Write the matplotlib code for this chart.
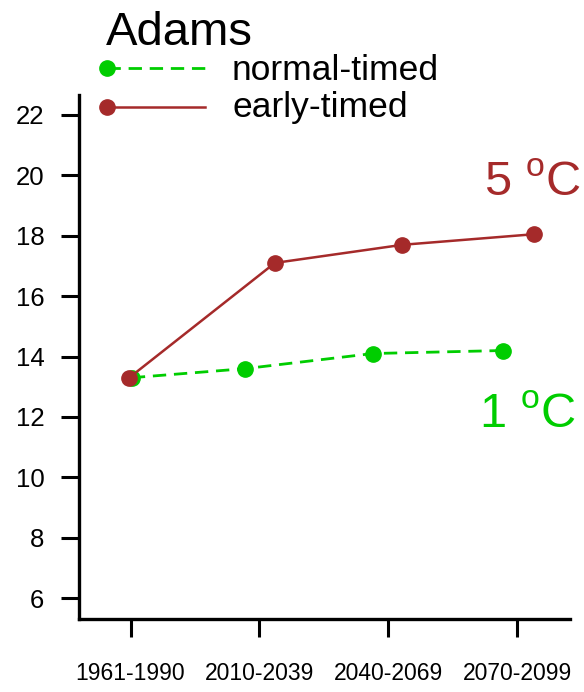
import numpy as np
import matplotlib
matplotlib.use("Agg")
import matplotlib.pyplot as plt
from matplotlib.lines import Line2D

plt.rcParams['font.family'] = ['Liberation Sans', 'DejaVu Sans']
plt.rcParams['mathtext.fontset'] = 'custom'
plt.rcParams['mathtext.rm'] = 'Liberation Sans'

periods = ["1961-1990", "2010-2039", "2040-2069", "2070-2099"]
normal_timed = [13.3, 13.6, 14.1, 14.2]
early_timed = [13.3, 17.1, 17.7, 18.05]
normal_err = [0.22, 0.22, 0.22, 0.22]
early_err = [0.22, 0.22, 0.22, 0.22]

green = "#00CD00"
brown = "#A52A2A"

W, H = 584, 692
fig = plt.figure(figsize=(W / 100, H / 100), dpi=100)
ax = fig.add_axes([79 / W, 1 - 619 / H, (570 - 79) / W, (619 - 95) / H])

pos = np.arange(1, len(periods) + 1)
# small dodge so the two series don't sit on top of each other
dodge_n = np.array([0.01, -0.11, -0.12, -0.11])
dodge_e = np.array([-0.01, 0.12, 0.11, 0.13])

ax.errorbar(pos + dodge_n, normal_timed, yerr=normal_err, color=green, lw=2.0,
            dashes=(4.8, 2.8), marker='o', ms=11, elinewidth=2.2, capsize=0, zorder=3)
ax.errorbar(pos + dodge_e, early_timed, yerr=early_err, color=brown, lw=1.8,
            marker='o', ms=11, elinewidth=2.2, capsize=0, zorder=4)

ax.set_xlim(0.6, 4.41)
ax.set_ylim(5.31, 22.66)
ax.set_yticks(np.arange(6, 23, 2))
ax.set_xticks(pos)
ax.set_xticklabels(periods, fontsize=16.5)
ax.tick_params(axis='y', labelsize=18.5, length=13, width=2.2, pad=12)
ax.tick_params(axis='x', length=13, width=2.2, pad=18)
for s in ['top', 'right']:
    ax.spines[s].set_visible(False)
for s in ['left', 'bottom']:
    ax.spines[s].set_linewidth(2.4)
ax.spines['left'].set_capstyle('projecting')

ax.text(4.49, 19.32, r"5 $^\mathrm{o}$C", color=brown, fontsize=35, ha='right', va='baseline', clip_on=False)
ax.text(4.45, 11.64, r"1 $^\mathrm{o}$C", color=green, fontsize=35, ha='right', va='baseline', clip_on=False)

# title and legend, placed in figure pixels
def fx(px):
    return px / W

def fy(py):
    return 1 - py / H

fig.text(fx(179), fy(45), "Adams", fontsize=34, ha='center', va='baseline')
fig.add_artist(Line2D([fx(107), fx(205)], [fy(68), fy(68)], color=green, lw=2.0, dashes=(4.8, 2.8)))
fig.add_artist(Line2D([fx(107)], [fy(68)], color=green, marker='o', ms=11, lw=0))
fig.add_artist(Line2D([fx(107), fx(205)], [fy(107), fy(107)], color=brown, lw=1.8))
fig.add_artist(Line2D([fx(107)], [fy(107)], color=brown, marker='o', ms=11, lw=0))
fig.text(fx(232), fy(70), "normal-timed", fontsize=25.5, ha='left', va='center')
fig.text(fx(233), fy(108), "early-timed", fontsize=25.5, ha='left', va='center')

fig.savefig("out.png", dpi=100)
